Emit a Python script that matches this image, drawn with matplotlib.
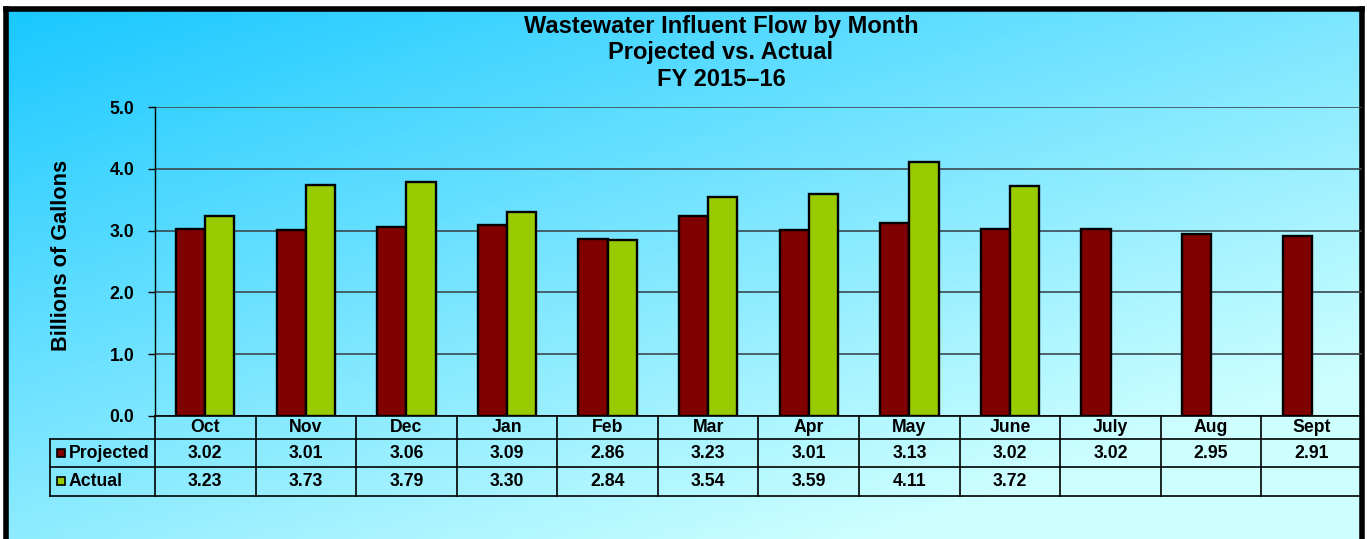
import matplotlib.pyplot as plt
import matplotlib.transforms as mtransforms
import numpy as np

plt.rcParams['font.family'] = ['Liberation Sans', 'DejaVu Sans']
plt.rcParams['font.weight'] = 'bold'

months = ['Oct', 'Nov', 'Dec', 'Jan', 'Feb', 'Mar', 'Apr', 'May', 'June', 'July', 'Aug', 'Sept']
projected = [3.02, 3.01, 3.06, 3.09, 2.86, 3.23, 3.01, 3.13, 3.02, 3.02, 2.95, 2.91]
actual = [3.23, 3.73, 3.79, 3.30, 2.84, 3.54, 3.59, 4.11, 3.72]
yticks = [0.0, 1.0, 2.0, 3.0, 4.0, 5.0]
title = 'Wastewater Influent Flow by Month\nProjected vs. Actual\nFY 2015\u201316'

c_proj = '#800000'
c_act = '#99cc00'

W, H = 1367, 539
fs = 12.7


def fx(px):
    return px / W


def fy(py):
    return 1 - py / H


fig = plt.figure(figsize=(W / 100, H / 100), dpi=100)
fig.patch.set_facecolor('white')

# gradient background with black frame
bg = fig.add_axes([fx(6), 0, fx(1362) - fx(6), fy(9)])
xx, yy = np.meshgrid(np.linspace(0, 1, 200), np.linspace(0, 1, 100))
t = np.clip(0.55 * xx + 0.65 * yy, 0, 1)
c0 = np.array([25, 200, 255]) / 255
c1 = np.array([205, 255, 255]) / 255
img = c0[None, None, :] * (1 - t[..., None]) + c1[None, None, :] * t[..., None]
bg.imshow(img, aspect='auto', extent=[0, 1, 1, 0])
bg.set_xticks([])
bg.set_yticks([])
for s in ['left', 'top', 'right']:
    bg.spines[s].set_linewidth(4)
    bg.spines[s].set_color('black')
bg.spines['bottom'].set_visible(False)

ax = fig.add_axes([fx(155), fy(416), fx(1362) - fx(155), fy(107) - fy(416)])
ax.patch.set_alpha(0)
x = np.arange(len(months))
bw = 0.29
ax.bar(x - bw / 2, projected, bw, color=c_proj, edgecolor='black', linewidth=1.7, zorder=3)
ax.bar(x[:len(actual)] + bw / 2, actual, bw, color=c_act, edgecolor='black', linewidth=1.7, zorder=3)
ax.set_xlim(-0.5, len(months) - 0.5)
ax.set_ylim(0, 5)
ax.set_yticks(yticks)
ax.set_yticklabels(['%.1f' % v for v in yticks], fontsize=fs, fontweight='bold')
ax.tick_params(axis='y', length=5, width=1, pad=10)
ax.set_xticks([])
ax.grid(axis='y', color='#3a4a50', linewidth=1.2, zorder=0)
for s in ['top', 'right']:
    ax.spines[s].set_visible(False)
ax.spines['left'].set_linewidth(1)
ax.spines['bottom'].set_linewidth(1.2)
ax.set_ylabel('Billions of Gallons', fontsize=15.7, fontweight='bold')
ax.yaxis.set_label_coords(-0.069, 0.521)

fig.text(fx(721), fy(53), title, ha='center', va='center', fontsize=17,
         fontweight='bold', linespacing=1.18)

# data table
tr = mtransforms.blended_transform_factory(ax.transData, fig.transFigure)
tf = fig.transFigure
lc = 'black'
for r in [439, 467, 496]:
    fig.add_artist(plt.Line2D([fx(50), fx(1362)], [fy(r), fy(r)], color=lc, lw=1.2, transform=tf))
fig.add_artist(plt.Line2D([fx(50), fx(50)], [fy(439), fy(496)], color=lc, lw=1.2, transform=tf))
for b in np.arange(len(months)) - 0.5:
    fig.add_artist(plt.Line2D([b, b], [fy(416), fy(496)], color=lc, lw=1.2, transform=tr))

for i, m in enumerate(months):
    fig.text(i, fy(428), m, transform=tr, ha='center', va='center', fontsize=fs, fontweight='bold')
    fig.text(i, fy(453), '%.2f' % projected[i], transform=tr, ha='center', va='center',
             fontsize=fs, fontweight='bold')
    if i < len(actual):
        fig.text(i, fy(481), '%.2f' % actual[i], transform=tr, ha='center', va='center',
                 fontsize=fs, fontweight='bold')

for lbl, col, r in [('Projected', c_proj, 453), ('Actual', c_act, 481)]:
    fig.add_artist(plt.Rectangle((fx(57), fy(r + 4)), fx(8), fy(r - 4) - fy(r + 4),
                                 facecolor=col, edgecolor='black', lw=1.2, transform=tf))
    fig.text(fx(69), fy(r), lbl, ha='left', va='center', fontsize=fs, fontweight='bold')

fig.savefig('out.png', dpi=100)
